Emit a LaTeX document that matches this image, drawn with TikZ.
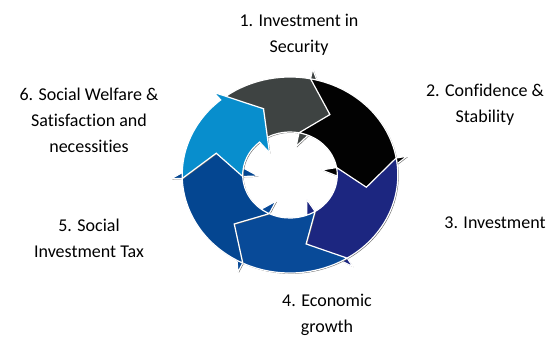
\documentclass[tikz,border=0pt]{standalone}
\usepackage{fontspec}
\setmainfont[Ligatures=NoCommon]{Carlito}
\usetikzlibrary{calc}

\definecolor{ringgray}{RGB}{62,67,66}
\definecolor{ringblack}{RGB}{2,2,2}
\definecolor{ringnavy}{RGB}{28,38,128}
\definecolor{ringblue}{RGB}{8,74,152}
\definecolor{ringdeep}{RGB}{4,70,145}
\definecolor{ringsky}{RGB}{8,142,205}

\tikzset{
  ringpart/.style={draw=white, line width=1.2pt, line join=miter},
  ringshade/.style={fill=black!60, draw=none},
  steplabel/.style={align=center, anchor=base, inner sep=0pt,
    font=\fontsize{18}{26}\selectfont},
}
% one arc arrow: tail angle, head angle
\newcommand{\ringpath}[2]{(#1:98) arc[start angle=#1, end angle=#2, radius=98]
  -- (#2:108) -- ({#2-20}:70.5) -- (#2:29) -- (#2:43)
  arc[start angle=#2, end angle=#1, radius=43] -- ({#1-20}:70.5) -- cycle}

\begin{document}
\begin{tikzpicture}[x=1pt,y=1pt]
  \useasboundingbox (0,0) rectangle (550,341);

  \begin{scope}[shift={(290,166)}, xscale=1.1]
    \foreach \ta/\hd/\col in {130/79/ringgray, 79/10/ringblack, 10/-58/ringnavy,
                              -58/-116/ringblue, -116/-178/ringdeep, -178/-230/ringsky} {
      \fill[ringshade, shift={(0.8,-0.8)}] \ringpath{\ta}{\hd};
      \filldraw[ringpart, fill=\col] \ringpath{\ta}{\hd};
    }
  \end{scope}

  \node[steplabel] (security) at (299,288.3) {1. Investment in\\Security};
  \node[steplabel] (confidence) at (485,218.3) {2. Confidence \&\\Stability};
  \node[steplabel] (investment) at (495,113) {3. Investment};
  \node[steplabel] (growth) at (327,9) {4. Economic\\growth};
  \node[steplabel] (tax) at (89,83.7) {5. Social\\Investment Tax};
  \node[steplabel] (welfare) at (89,188.3) {6. Social Welfare \&\\Satisfaction and\\necessities};
\end{tikzpicture}
\end{document}
